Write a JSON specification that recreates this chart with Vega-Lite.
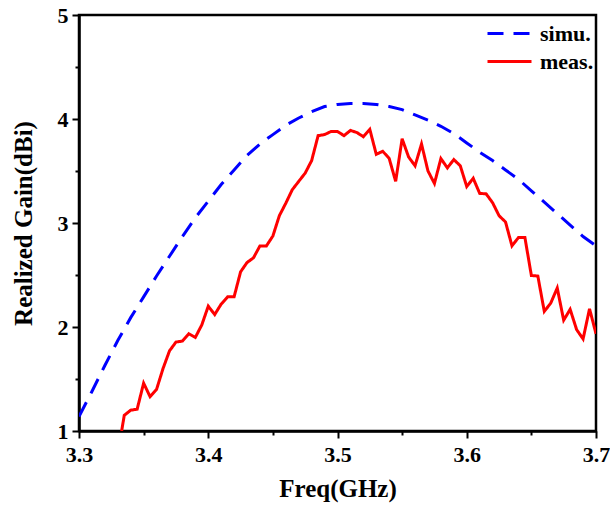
{
  "$schema": "https://vega.github.io/schema/vega-lite/v6.json",
  "width": 517,
  "height": 416,
  "autosize": "none",
  "padding": {"left": 79, "top": 15, "right": 14, "bottom": 79},
  "background": "white",
  "config": {
    "view": {"stroke": "black", "strokeWidth": 2.5},
    "font": "Liberation Serif, Times New Roman, serif",
    "axis": {
      "domainColor": "black",
      "domainWidth": 2.5,
      "tickColor": "black",
      "tickWidth": 2,
      "grid": false,
      "labelFont": "Liberation Serif, Times New Roman, serif",
      "labelFontWeight": "bold",
      "labelFontSize": 22,
      "labelColor": "black",
      "titleFont": "Liberation Serif, Times New Roman, serif",
      "titleFontWeight": "bold",
      "titleFontSize": 25,
      "titleColor": "black"
    },
    "legend": {
      "labelFont": "Liberation Serif, Times New Roman, serif",
      "labelFontWeight": "bold",
      "labelFontSize": 22,
      "labelColor": "black"
    }
  },
  "datasets": {
    "simu": [
      {"f": 3.30, "g": 1.14, "series": "simu."},
      {"f": 3.31, "g": 1.38, "series": "simu."},
      {"f": 3.32, "g": 1.63, "series": "simu."},
      {"f": 3.33, "g": 1.87, "series": "simu."},
      {"f": 3.34, "g": 2.09, "series": "simu."},
      {"f": 3.35, "g": 2.29, "series": "simu."},
      {"f": 3.36, "g": 2.49, "series": "simu."},
      {"f": 3.37, "g": 2.68, "series": "simu."},
      {"f": 3.38, "g": 2.87, "series": "simu."},
      {"f": 3.39, "g": 3.05, "series": "simu."},
      {"f": 3.40, "g": 3.21, "series": "simu."},
      {"f": 3.41, "g": 3.37, "series": "simu."},
      {"f": 3.42, "g": 3.51, "series": "simu."},
      {"f": 3.43, "g": 3.65, "series": "simu."},
      {"f": 3.44, "g": 3.76, "series": "simu."},
      {"f": 3.45, "g": 3.85, "series": "simu."},
      {"f": 3.46, "g": 3.94, "series": "simu."},
      {"f": 3.47, "g": 4.01, "series": "simu."},
      {"f": 3.48, "g": 4.07, "series": "simu."},
      {"f": 3.49, "g": 4.12, "series": "simu."},
      {"f": 3.50, "g": 4.14, "series": "simu."},
      {"f": 3.51, "g": 4.15, "series": "simu."},
      {"f": 3.52, "g": 4.15, "series": "simu."},
      {"f": 3.53, "g": 4.14, "series": "simu."},
      {"f": 3.54, "g": 4.12, "series": "simu."},
      {"f": 3.55, "g": 4.09, "series": "simu."},
      {"f": 3.56, "g": 4.04, "series": "simu."},
      {"f": 3.57, "g": 3.99, "series": "simu."},
      {"f": 3.58, "g": 3.93, "series": "simu."},
      {"f": 3.59, "g": 3.86, "series": "simu."},
      {"f": 3.60, "g": 3.77, "series": "simu."},
      {"f": 3.61, "g": 3.68, "series": "simu."},
      {"f": 3.62, "g": 3.60, "series": "simu."},
      {"f": 3.63, "g": 3.51, "series": "simu."},
      {"f": 3.64, "g": 3.42, "series": "simu."},
      {"f": 3.65, "g": 3.31, "series": "simu."},
      {"f": 3.66, "g": 3.20, "series": "simu."},
      {"f": 3.67, "g": 3.09, "series": "simu."},
      {"f": 3.68, "g": 2.98, "series": "simu."},
      {"f": 3.69, "g": 2.87, "series": "simu."},
      {"f": 3.70, "g": 2.78, "series": "simu."}
    ],
    "meas": [
      {"f": 3.333, "g": 1.00, "series": "meas."},
      {"f": 3.335, "g": 1.15, "series": "meas."},
      {"f": 3.340, "g": 1.20, "series": "meas."},
      {"f": 3.345, "g": 1.21, "series": "meas."},
      {"f": 3.350, "g": 1.46, "series": "meas."},
      {"f": 3.355, "g": 1.33, "series": "meas."},
      {"f": 3.360, "g": 1.40, "series": "meas."},
      {"f": 3.365, "g": 1.60, "series": "meas."},
      {"f": 3.370, "g": 1.77, "series": "meas."},
      {"f": 3.375, "g": 1.855, "series": "meas."},
      {"f": 3.380, "g": 1.865, "series": "meas."},
      {"f": 3.385, "g": 1.935, "series": "meas."},
      {"f": 3.390, "g": 1.90, "series": "meas."},
      {"f": 3.395, "g": 2.02, "series": "meas."},
      {"f": 3.400, "g": 2.20, "series": "meas."},
      {"f": 3.405, "g": 2.12, "series": "meas."},
      {"f": 3.410, "g": 2.22, "series": "meas."},
      {"f": 3.415, "g": 2.29, "series": "meas."},
      {"f": 3.420, "g": 2.29, "series": "meas."},
      {"f": 3.425, "g": 2.53, "series": "meas."},
      {"f": 3.430, "g": 2.62, "series": "meas."},
      {"f": 3.435, "g": 2.665, "series": "meas."},
      {"f": 3.440, "g": 2.78, "series": "meas."},
      {"f": 3.445, "g": 2.78, "series": "meas."},
      {"f": 3.450, "g": 2.875, "series": "meas."},
      {"f": 3.455, "g": 3.07, "series": "meas."},
      {"f": 3.460, "g": 3.19, "series": "meas."},
      {"f": 3.465, "g": 3.32, "series": "meas."},
      {"f": 3.470, "g": 3.40, "series": "meas."},
      {"f": 3.475, "g": 3.48, "series": "meas."},
      {"f": 3.480, "g": 3.60, "series": "meas."},
      {"f": 3.485, "g": 3.84, "series": "meas."},
      {"f": 3.490, "g": 3.85, "series": "meas."},
      {"f": 3.495, "g": 3.88, "series": "meas."},
      {"f": 3.500, "g": 3.88, "series": "meas."},
      {"f": 3.505, "g": 3.84, "series": "meas."},
      {"f": 3.510, "g": 3.89, "series": "meas."},
      {"f": 3.515, "g": 3.87, "series": "meas."},
      {"f": 3.520, "g": 3.83, "series": "meas."},
      {"f": 3.525, "g": 3.90, "series": "meas."},
      {"f": 3.530, "g": 3.66, "series": "meas."},
      {"f": 3.535, "g": 3.69, "series": "meas."},
      {"f": 3.540, "g": 3.62, "series": "meas."},
      {"f": 3.545, "g": 3.40, "series": "meas."},
      {"f": 3.550, "g": 3.81, "series": "meas."},
      {"f": 3.555, "g": 3.635, "series": "meas."},
      {"f": 3.560, "g": 3.55, "series": "meas."},
      {"f": 3.565, "g": 3.76, "series": "meas."},
      {"f": 3.570, "g": 3.50, "series": "meas."},
      {"f": 3.575, "g": 3.38, "series": "meas."},
      {"f": 3.580, "g": 3.62, "series": "meas."},
      {"f": 3.585, "g": 3.53, "series": "meas."},
      {"f": 3.590, "g": 3.61, "series": "meas."},
      {"f": 3.595, "g": 3.55, "series": "meas."},
      {"f": 3.600, "g": 3.35, "series": "meas."},
      {"f": 3.605, "g": 3.43, "series": "meas."},
      {"f": 3.610, "g": 3.285, "series": "meas."},
      {"f": 3.615, "g": 3.28, "series": "meas."},
      {"f": 3.620, "g": 3.195, "series": "meas."},
      {"f": 3.625, "g": 3.07, "series": "meas."},
      {"f": 3.630, "g": 3.01, "series": "meas."},
      {"f": 3.635, "g": 2.78, "series": "meas."},
      {"f": 3.640, "g": 2.86, "series": "meas."},
      {"f": 3.645, "g": 2.86, "series": "meas."},
      {"f": 3.650, "g": 2.495, "series": "meas."},
      {"f": 3.655, "g": 2.49, "series": "meas."},
      {"f": 3.660, "g": 2.15, "series": "meas."},
      {"f": 3.665, "g": 2.23, "series": "meas."},
      {"f": 3.670, "g": 2.375, "series": "meas."},
      {"f": 3.675, "g": 2.065, "series": "meas."},
      {"f": 3.680, "g": 2.17, "series": "meas."},
      {"f": 3.685, "g": 1.975, "series": "meas."},
      {"f": 3.690, "g": 1.885, "series": "meas."},
      {"f": 3.695, "g": 2.175, "series": "meas."},
      {"f": 3.700, "g": 1.935, "series": "meas."}
    ]
  },
  "layer": [
    {
      "data": {"name": "simu"},
      "mark": {"type": "line", "strokeWidth": 3, "clip": true},
      "encoding": {
        "x": {
          "field": "f", "type": "quantitative",
          "scale": {"domain": [3.3, 3.7], "nice": false, "zero": false},
          "axis": {"orient": "bottom", "title": "Freq(GHz)", "values": [3.3, 3.4, 3.5, 3.6, 3.7], "format": ".1f", "tickSize": 7, "labelPadding": 6, "titlePadding": 11, "labelFlush": false}
        },
        "y": {
          "field": "g", "type": "quantitative",
          "scale": {"domain": [1, 5], "nice": false, "zero": false},
          "axis": {"orient": "left", "title": "Realized Gain(dBi)", "values": [1, 2, 3, 4, 5], "format": "d", "tickSize": 7, "labelPadding": 4, "titlePadding": 21, "labelFlush": false}
        },
        "color": {
          "field": "series", "type": "nominal",
          "scale": {"domain": ["simu.", "meas."], "range": ["#0000FF", "#FF0000"]},
          "legend": {"title": null, "orient": "none", "legendX": 418, "legendY": 6, "symbolType": "M-2,0H2", "symbolSize": 484, "symbolStrokeWidth": 3, "rowPadding": 4, "labelOffset": 18, "padding": 0}
        },
        "strokeDash": {
          "field": "series", "type": "nominal",
          "scale": {"domain": ["simu.", "meas."], "range": [[16, 10], [1, 0]]},
          "legend": {"title": null, "orient": "none", "legendX": 418, "legendY": 6, "symbolType": "M-2,0H2", "symbolSize": 484, "symbolStrokeWidth": 3, "rowPadding": 4, "labelOffset": 18, "padding": 0}
        }
      }
    },
    {
      "data": {"name": "meas"},
      "mark": {"type": "line", "strokeWidth": 3, "clip": true},
      "encoding": {
        "x": {
          "field": "f", "type": "quantitative",
          "axis": {"orient": "bottom", "title": null, "labels": false, "domain": false, "values": [3.35, 3.45, 3.55, 3.65], "tickSize": 4}
        },
        "y": {
          "field": "g", "type": "quantitative",
          "axis": {"orient": "left", "title": null, "labels": false, "domain": false, "values": [1.5, 2.5, 3.5, 4.5], "tickSize": 4}
        },
        "color": {"field": "series", "type": "nominal"},
        "strokeDash": {"field": "series", "type": "nominal"}
      }
    }
  ],
  "resolve": {"axis": {"x": "independent", "y": "independent"}}
}
